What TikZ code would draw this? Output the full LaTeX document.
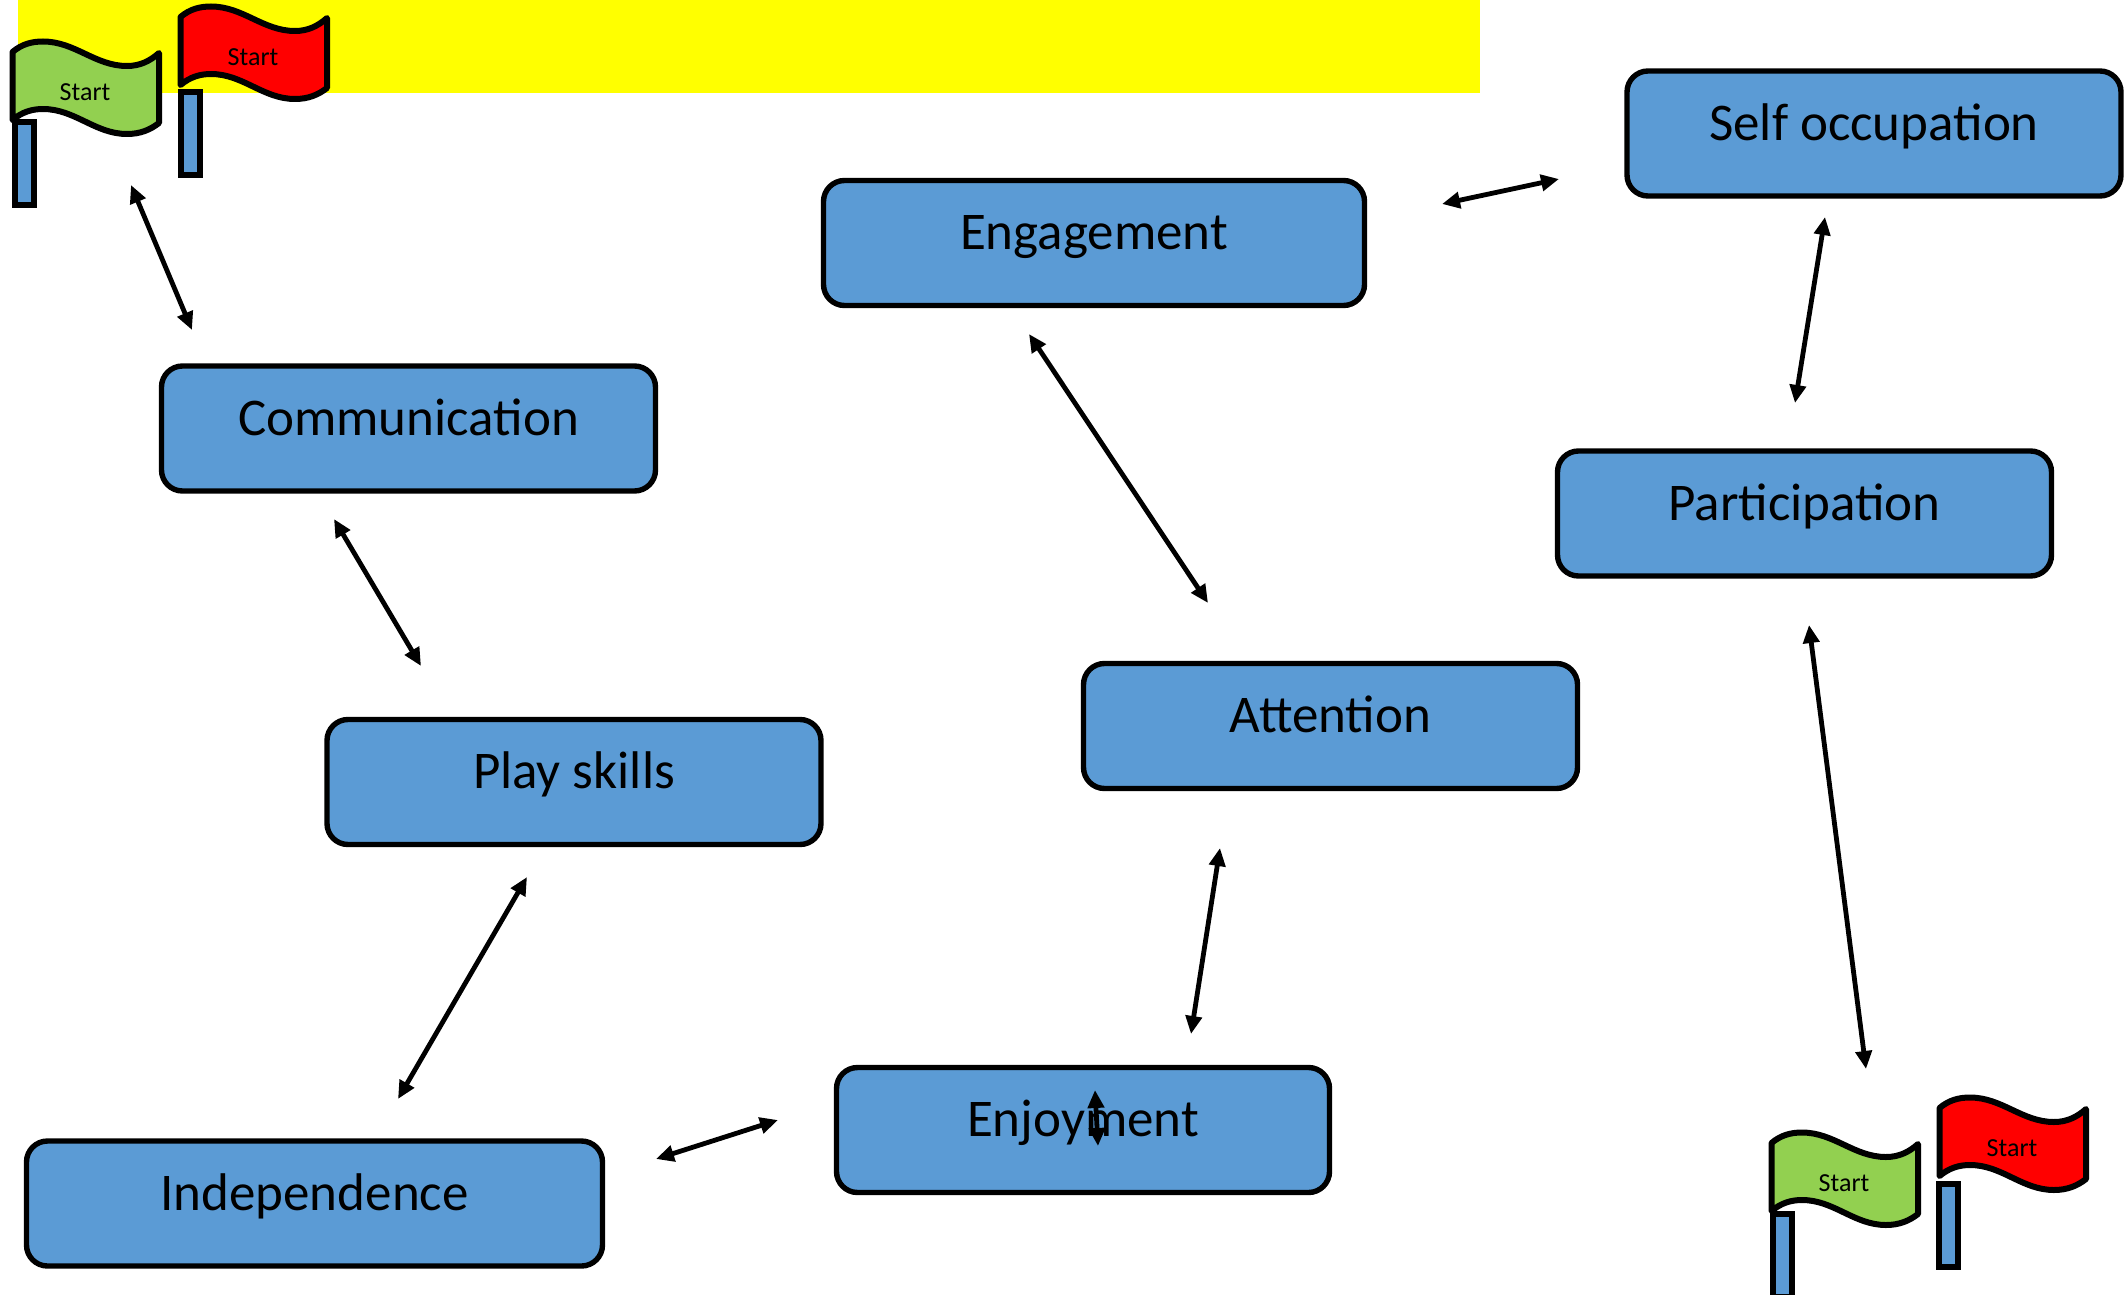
\documentclass[tikz,border=0pt]{standalone}
\usepackage{fontspec}
\setmainfont{Carlito}
\usetikzlibrary{arrows.meta}
\definecolor{boxblue}{HTML}{5B9BD5}
\definecolor{flaggreen}{HTML}{92D050}
\definecolor{flagred}{HTML}{FF0000}
\definecolor{banner}{HTML}{FFFF00}
\tikzset{
  box/.style={draw=black,line width=5.4pt,fill=boxblue,rounded corners=21pt,inner sep=0pt,
    text height=69pt,text depth=56pt,align=center,font=\fontsize{53}{60}\selectfont},
  link/.style={line width=4.8pt,{Triangle[length=18pt,width=16pt]}-{Triangle[length=18pt,width=16pt]}},
  flagcloth/.style={draw=black,line width=6pt,line join=round},
  flagpole/.style={draw=black,line width=6pt,fill=boxblue},
  flagtext/.style={font=\fontsize{26}{30}\selectfont,inner sep=0pt,anchor=base}
}
% #1 name, #2 colour, #3,#4 cloth shift, #5,#6 pole shift
\newcommand{\flagat}[6]{%
  \begin{scope}[shift={(#3,#4)}]
    \path[flagcloth,fill=#2] (12.5,52) .. controls (22,44) and (32,41.5) .. (43,41.5)
      .. controls (75,41.5) and (95,66) .. (127,66)
      .. controls (140,66) and (150,61) .. (159,53) -- (159,123)
      .. controls (150,130) and (140,134) .. (127,134)
      .. controls (95,134) and (75,109) .. (43,109)
      .. controls (32,109) and (22,112) .. (12.5,120) -- cycle;
    \node[flagtext] (#1text) at (85,100.5) {Start};
  \end{scope}
  \begin{scope}[shift={(#5,#6)}]
    \draw[flagpole] (14.5,122) rectangle (33.5,204.5);
  \end{scope}}
\begin{document}
\begin{tikzpicture}[x=1pt,y=-1pt]
\useasboundingbox (0,0) rectangle (2125,1295);
\fill[banner] (18,0) rectangle (1480,93);

\flagat{ga}{flaggreen}{0}{0}{0}{0}
\flagat{ra}{flagred}{168}{-35}{166}{-30}
\flagat{gb}{flaggreen}{1759}{1091}{1758}{1092}
\flagat{rb}{flagred}{1927}{1056}{1924}{1062}

\node[box,minimum width=494pt] (self) at (1874,133.5) {Self occupation};
\node[box,minimum width=541pt] (eng) at (1094,243) {Engagement};
\node[box,minimum width=494pt] (comm) at (408.5,428.5) {Communication};
\node[box,minimum width=494pt] (part) at (1804.5,513.5) {Participation};
\node[box,minimum width=494pt] (att) at (1330.5,726) {Attention};
\node[box,minimum width=494pt] (play) at (574,782) {Play skills};
\node[box,minimum width=493pt] (enj) at (1083,1130) {Enjoyment};
\node[box,minimum width=576pt] (ind) at (314.5,1203.5) {Independence};

\coordinate (a1) at (131,185);  \coordinate (b1) at (192,330);
\coordinate (a2) at (334,519);  \coordinate (b2) at (421,666);
\coordinate (a3) at (527,877);  \coordinate (b3) at (398,1099);
\coordinate (a4) at (656,1159); \coordinate (b4) at (778,1120);
\coordinate (a5) at (1095,1090);\coordinate (b5) at (1098,1146);
\coordinate (a6) at (1220,848); \coordinate (b6) at (1191,1034);
\coordinate (a7) at (1029,334); \coordinate (b7) at (1208,603);
\coordinate (a8) at (1442,204); \coordinate (b8) at (1559,179);
\coordinate (a9) at (1825,217); \coordinate (b9) at (1795,403);
\coordinate (a10) at (1809,625);\coordinate (b10) at (1866,1069);
\foreach \i in {1,...,10} \draw[link] (a\i) -- (b\i);
\end{tikzpicture}
\end{document}
